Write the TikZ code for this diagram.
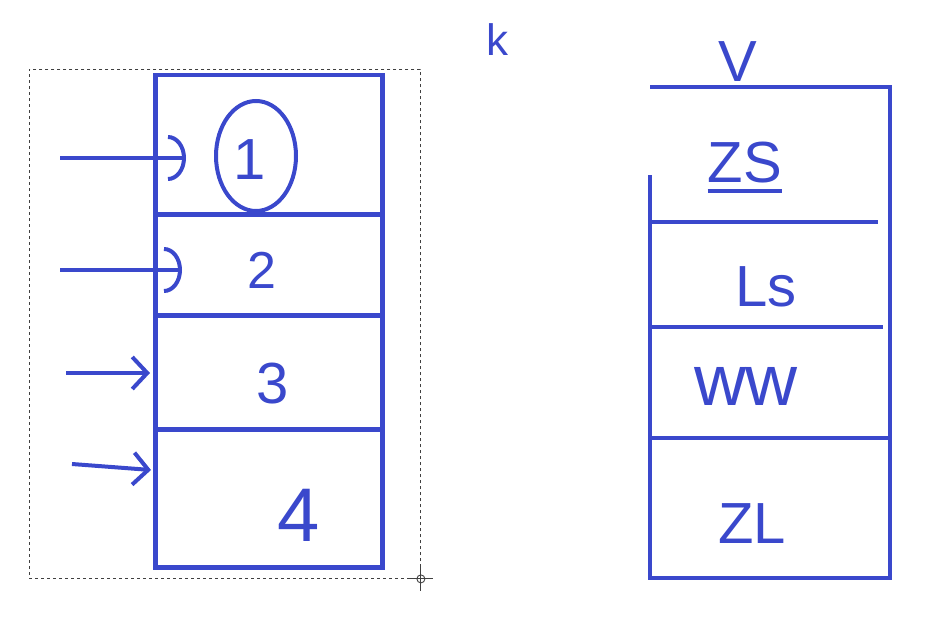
\documentclass[tikz,border=0pt]{standalone}
\usepackage{fontspec}
\setmainfont{Liberation Sans}
\usetikzlibrary{arrows.meta,shapes.geometric}
\definecolor{pen}{RGB}{58,72,204}
\tikzset{
  pen/.style={draw=pen,line width=4.5pt},
  cell/.style={pen,rectangle,inner sep=0pt,anchor=north west},
  lbl/.style={text=pen,inner sep=0pt,font=\fontsize{58}{58}\selectfont},
  slbl/.style={text=pen,inner sep=0pt,font=\fontsize{44}{44}\selectfont},
  arcarrow/.style={draw=pen,line width=4pt,-{Arc Barb[width=46pt,length=18pt,line width=4pt]}},
  barbarrow/.style={draw=pen,line width=4pt,-{Straight Barb[width=32pt,length=15pt,line width=4pt]}},
  frame/.style={draw=black!75,line width=0.9pt,dash pattern=on 3pt off 3pt},
}
\begin{document}
\begin{tikzpicture}[x=1pt,y=-1pt]
\useasboundingbox (0,0) rectangle (946,626);
% dashed selection frame
\node[frame,rectangle,inner sep=0pt,anchor=north west,minimum width=391pt,minimum height=509pt] (sel) at (29,69) {};
\draw[black!75,line width=0.9pt] (sel.south east) circle (4pt);
\draw[black!75,line width=0.9pt] ([xshift=-12pt]sel.south east) -- ([xshift=12pt]sel.south east)
      ([yshift=-12pt]sel.south east) -- ([yshift=12pt]sel.south east);
% left stack
\node[cell,minimum width=227pt,minimum height=139pt] (c1) at (153,73) {};
\node[cell,minimum width=227pt,minimum height=101pt] (c2) at (153,212) {};
\node[cell,minimum width=227pt,minimum height=114pt] (c3) at (153,313) {};
\node[cell,minimum width=227pt,minimum height=138pt] (c4) at (153,427) {};
% circled 1
\node[ellipse,draw=pen,line width=4pt,minimum width=80pt,minimum height=110pt,inner sep=0pt] (o1) at (256,156) {};
\node[lbl] (t1) at (250,160) {1};
\node[slbl,font=\fontsize{52}{52}\selectfont] (t2) at (262,270) {2};
\node[lbl] (t3) at (273,384) {3};
\node[lbl,font=\fontsize{76}{76}\selectfont] (t4) at (299,515) {4};
% arrows
\coordinate (a1) at (60,158);
\coordinate (a2) at (60,270);
\coordinate (a3) at (66,373);
\coordinate (a4) at (72,464);
\draw[arcarrow] (a1) -- ([xshift=33pt]a1 -| c1.west);
\draw[arcarrow] (a2) -- ([xshift=29pt]a2 -| c2.west);
\draw[barbarrow] (a3) -- ([xshift=-3pt]a3 -| c3.west);
\draw[barbarrow] (a4) -- ([xshift=-2pt,yshift=-6pt]a4 -| c4.west);
% k and V
\node[slbl] (k) at (497,40) {k};
\node[lbl] (v) at (738,62) {V};
% right stack
\coordinate (r0) at (650,87);
\coordinate (r0e) at (890,87);
\coordinate (rl) at (650,175);
\coordinate (rb) at (650,578);
\coordinate (rbe) at (890,578);
\coordinate (d1) at (650,222); \coordinate (d1e) at (878,222);
\coordinate (d2) at (650,327); \coordinate (d2e) at (883,327);
\coordinate (d3) at (650,438); \coordinate (d3e) at (890,438);
\draw[pen] (r0) -- (r0e) -- (rbe) -- (rb) -- (rl);
\draw[pen] (d1) -- (d1e);
\draw[pen] (d2) -- (d2e);
\draw[pen] (d3) -- (d3e);
\node[lbl] (zs) at (745,163) {ZS};
\draw[pen,line width=4pt] ([yshift=-7pt]zs.south west) -- ([yshift=-7pt]zs.south east);
\node[lbl] (ls) at (766,287) {Ls};
\node[lbl,font=\fontsize{72}{72}\selectfont] (ww) at (746,386) {ww};
\node[lbl] (zl) at (752,524) {ZL};
\end{tikzpicture}
\end{document}
